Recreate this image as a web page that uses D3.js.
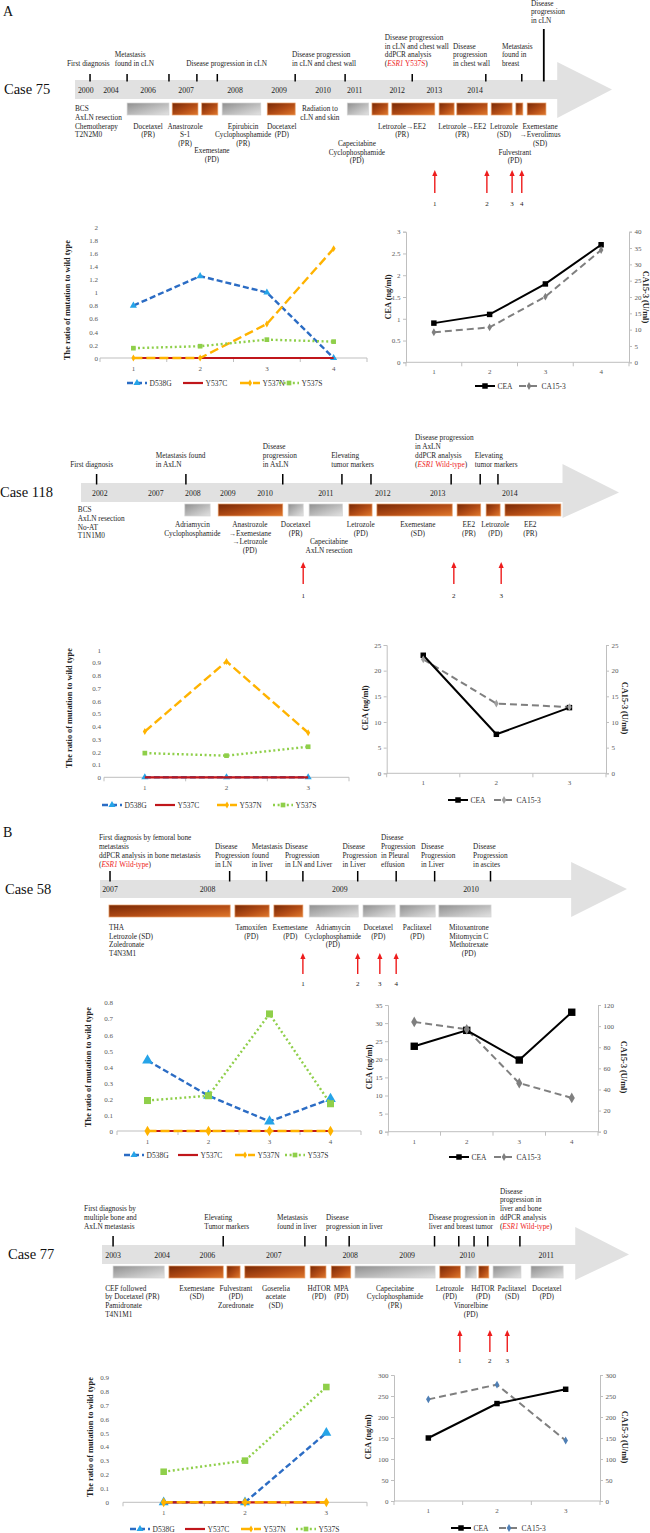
<!DOCTYPE html>
<html><head><meta charset="utf-8"><title>ESR1 mutation timelines</title>
<script src="https://cdn.jsdelivr.net/npm/d3@7/dist/d3.min.js"></script>
<style>html,body{margin:0;padding:0;background:#fff;}svg{display:block;}</style>
</head><body>
<script>
// ================= DATA =================
const mutationNames = ["D538G", "Y537C", "Y537N", "Y537S"];
const markerNames = ["CEA", "CA15-3"];

// ---- Case 75 (timeline positions in % of arrow length) ----
const c75Years = [{label:"2000",t:2.0},{label:"2004",t:6.7},{label:"2006",t:13.6},{label:"2007",t:20.7},{label:"2008",t:29.8},{label:"2009",t:38.0},{label:"2010",t:46.2},{label:"2011",t:52.1},{label:"2012",t:60.0},{label:"2013",t:66.9},{label:"2014",t:74.5}];
const c75Events = [
  {t:2.8, lx:-1.5, text:["First diagnosis"]},
  {t:9.7, lx:7.4, text:["Metastasis","found in cLN"]},
  {t:17.5, text:[]},
  {t:22.7, text:[]},
  {t:26.5, lx:20.7, text:["Disease progression in cLN"]},
  {t:41.0, lx:40.4, text:["Disease progression","in cLN and chest wall"]},
  {t:50.3, text:[]},
  {t:62.8, lx:57.7, text:["Disease progression","in cLN and chest wall","ddPCR analysis","(ESR1 Y537S)"]},
  {t:76.5, lx:70.4, text:["Disease","progression","in chest wall"]},
  {t:83.2, lx:79.5, text:["Metastasis","found in","breast"]},
  {t:87.3, lx:84.9, tall:true, text:["Disease","progression","in cLN"]}
];
const c75Bars = [
  {s:9.7,e:17.5,kind:"chemo"},{s:18.1,e:22.9,kind:"endo"},{s:23.6,e:26.6,kind:"endo"},{s:27.4,e:34.6,kind:"chemo"},
  {s:35.8,e:41.0,kind:"endo"},{s:50.7,e:54.7,kind:"chemo"},{s:55.3,e:58.3,kind:"endo"},{s:59.0,e:67.0,kind:"endo"},
  {s:67.8,e:70.6,kind:"endo"},{s:71.1,e:76.8,kind:"endo"},{s:77.5,e:81.4,kind:"endo"},{s:82.1,e:83.4,kind:"endo"},{s:84.2,e:87.7,kind:"endo"}
];
const c75Therapy = [
  {c:0, row:0, anchor:"start", text:["BCS","AxLN resection","Chemotherapy","T2N2M0"]},
  {c:13.6,row:2,text:["Docetaxel","(PR)"]},
  {c:20.5,row:2,text:["Anastrozole","S-1","(PR)"]},
  {c:25.5,row:4.8,text:["Exemestane","(PD)"]},
  {c:31.3,row:2,text:["Epirubicin","Cyclophosphamide","(PR)"]},
  {c:38.5,row:2,text:["Docetaxel","(PD)"]},
  {c:45.6,row:0,text:["Radiation to","cLN and skin"]},
  {c:52.5,row:4,text:["Capecitabine","Cyclophosphamide","(PD)"]},
  {c:60.9,row:2,text:["Letrozole→EE2","(PR)"]},
  {c:72.1,row:2,text:["Letrozole→EE2","(PR)"]},
  {c:79.9,row:2,text:["Letrozole","(SD)"]},
  {c:86.6,row:2,text:["Exemestane","→Everolimus","(SD)"]},
  {c:81.9,row:5,text:["Fulvestrant","(PD)"]}
];
const c75Sampling = [67.0, 76.7, 81.4, 83.2];
const c75Samples = ["1","2","3","4"];
const c75D538G = [0.8, 1.25, 1.0, 0];
const c75Y537C = [0, 0, 0, 0];
const c75Y537N = [0, 0, 0.52, 1.67];
const c75Y537S = [0.15, 0.18, 0.28, 0.25];
const c75MutTicks = [0,0.2,0.4,0.6,0.8,1,1.2,1.4,1.6,1.8,2];
const c75CEA = [0.9, 1.1, 1.8, 2.7];
const c75CA153 = [9.2, 10.7, 20.1, 34.4];
const c75CeaTicks = [0,0.5,1,1.5,2,2.5,3];
const c75CaTicks = [0,5,10,15,20,25,30,35,40];

// ---- Case 118 ----
const c118Years = [{label:"2002",t:3.5},{label:"2007",t:13.9},{label:"2008",t:20.8},{label:"2009",t:27.3},{label:"2010",t:34.2},{label:"2011",t:45.5},{label:"2012",t:56.1},{label:"2013",t:66.3},{label:"2014",t:79.7}];
const c118Events = [
  {t:2.9, lx:-2.0, text:["First diagnosis"]},
  {t:19.5, lx:13.9, text:["Metastasis found","in AxLN"]},
  {t:37.5, lx:33.8, text:["Disease","progression","in AxLN"]},
  {t:48.5, lx:46.5, text:["Elevating","tumor markers"]},
  {t:53.9, text:[]},
  {t:68.8, lx:62.1, text:["Disease progression","in AxLN","ddPCR analysis","(ESR1 Wild-type)"]},
  {t:74.2, text:[]},
  {t:77.5, lx:73.2, text:["Elevating","tumor markers"]}
];
const c118Bars = [
  {s:19.3,e:24.0,kind:"chemo"},{s:25.5,e:37.5,kind:"endo"},{s:38.5,e:41.3,kind:"chemo"},{s:42.4,e:48.6,kind:"chemo"},
  {s:49.8,e:54.1,kind:"endo"},{s:55.0,e:69.0,kind:"endo"},{s:69.9,e:74.3,kind:"endo"},{s:75.3,e:77.9,kind:"endo"},{s:78.8,e:89.2,kind:"endo"}
];
const c118Therapy = [
  {c:-0.6,row:0.3,anchor:"start",text:["BCS","AxLN resection","No-AT","T1N1M0"]},
  {c:20.7,row:2,text:["Adriamycin","Cyclophosphamide"]},
  {c:31.4,row:2,text:["Anastrozole","→Exemestane","→Letrozole","(PD)"]},
  {c:39.9,row:2,text:["Docetaxel","(PR)"]},
  {c:46.1,row:4,text:["Capecitabine","AxLN resection"]},
  {c:52.0,row:2,text:["Letrozole","(PD)"]},
  {c:62.6,row:2,text:["Exemestane","(SD)"]},
  {c:72.1,row:2,text:["EE2","(PR)"]},
  {c:77.0,row:2,text:["Letrozole","(PD)"]},
  {c:83.5,row:2,text:["EE2","(PR)"]}
];
const c118Sampling = [41.3, 69.3, 78.1];
const c118Samples = ["1","2","3"];
const c118D538G = [0, 0, 0];
const c118Y537C = [0, 0, 0];
const c118Y537N = [0.36, 0.91, 0.35];
const c118Y537S = [0.19, 0.17, 0.24];
const c118MutTicks = [0,0.1,0.2,0.3,0.4,0.5,0.6,0.7,0.8,0.9,1];
const c118CEA = [23, 7.6, 12.8];
const c118CA153 = [22.2, 13.6, 12.9];
const c118CeaTicks = [0,5,10,15,20,25];
const c118CaTicks = [0,5,10,15,20,25];

// ---- Case 58 ----
const c58Years = [{label:"2007",t:1.9},{label:"2008",t:20.4},{label:"2009",t:45.5},{label:"2010",t:70.4}];
const c58Events = [
  {t:1.9, lx:-0.2, text:["First diagnosis by femoral bone","metastasis","ddPCR analysis in bone metastasis","(ESR1 Wild-type)"]},
  {t:24.6, lx:21.8, text:["Disease","Progression","in LN"]},
  {t:31.6, lx:28.8, text:["Metastasis","found","in liver"]},
  {t:38.5, lx:35.1, text:["Disease","Progression","in LN and Liver"]},
  {t:48.9, lx:46.0, text:["Disease","Progression","in Liver"]},
  {t:56.2, lx:53.3, text:["Disease","Progression","in Pleural","effusion"]},
  {t:63.5, lx:60.9, text:["Disease","Progression","in Liver"]},
  {t:74.1, lx:70.8, text:["Disease","Progression","in ascites"]}
];
const c58Bars = [
  {s:1.7,e:24.7,kind:"endo"},{s:25.6,e:32.1,kind:"endo"},{s:33.0,e:38.5,kind:"endo"},
  {s:39.7,e:49.0,kind:"chemo"},{s:49.9,e:56.0,kind:"chemo"},{s:56.9,e:63.6,kind:"chemo"},{s:64.3,e:74.2,kind:"chemo"}
];
const c58Therapy = [
  {c:1.7,row:2,anchor:"start",text:["THA","Letrozole (SD)","Zoledronate","T4N3M1"]},
  {c:28.7,row:2,text:["Tamoxifen","(PD)"]},
  {c:36.1,row:2,text:["Exemestane","(PD)"]},
  {c:44.2,row:2,text:["Adriamycin","Cyclophosphamide","(PD)"]},
  {c:52.8,row:2,text:["Docetaxel","(PD)"]},
  {c:60.2,row:2,text:["Paclitaxel","(PD)"]},
  {c:70.0,row:2,text:["Mitoxantrone","Mitomycin C","Methotrexate","(PD)"]}
];
const c58Sampling = [38.5, 48.9, 53.1, 56.2];
const c58Samples = ["1","2","3","4"];
const c58D538G = [0.44, 0.22, 0.06, 0.2];
const c58Y537C = [0, 0, 0, 0];
const c58Y537N = [0, 0, 0, 0];
const c58Y537S = [0.19, 0.22, 0.73, 0.17];
const c58MutTicks = [0,0.1,0.2,0.3,0.4,0.5,0.6,0.7,0.8];
const c58CEA = [23.6, 28, 19.8, 33];
const c58CA153 = [104, 97, 46, 32];
const c58CeaTicks = [0,5,10,15,20,25,30,35];
const c58CaTicks = [0,20,40,60,80,100,120];

// ---- Case 77 ----
const c77Years = [{label:"2003",t:2.1},{label:"2004",t:11.4},{label:"2006",t:20.0},{label:"2007",t:32.6},{label:"2008",t:47.1},{label:"2009",t:57.9},{label:"2010",t:69.3},{label:"2011",t:84.3}];
const c77Events = [
  {t:2.1, lx:-3.4, text:["First diagnosis by","multiple bone and","AxLN metastasis"]},
  {t:23.0, lx:19.4, text:["Elevating","Tumor markers"]},
  {t:38.5, lx:33.2, text:["Metastasis","found in liver"]},
  {t:42.5, text:[]},
  {t:46.9, lx:42.5, text:["Disease","progression in liver"]},
  {t:63.1, lx:62.0, text:["Disease progression in","liver and breast tumor"]},
  {t:67.7, text:[]},
  {t:70.6, text:[]},
  {t:73.2, text:[]},
  {t:79.3, lx:75.5, text:["Disease","progression in","liver and bone","ddPCR analysis","(ESR1 Wild-type)"]}
];
const c77Bars = [
  {s:2.1,e:11.8,kind:"chemo"},{s:12.7,e:23.0,kind:"endo"},{s:23.7,e:26.2,kind:"endo"},{s:27.1,e:38.5,kind:"endo"},
  {s:39.5,e:42.5,kind:"endo"},{s:43.5,e:47.2,kind:"endo"},{s:48.0,e:63.2,kind:"chemo"},{s:64.1,e:68.0,kind:"endo"},
  {s:68.9,e:71.0,kind:"chemo"},{s:71.5,e:73.4,kind:"endo"},{s:74.2,e:79.5,kind:"chemo"},{s:81.4,e:87.5,kind:"chemo"}
];
const c77Therapy = [
  {c:0.6,row:2,anchor:"start",text:["CEF followed","by Docetaxel (PR)","Pamidronate","T4N1M1"]},
  {c:18.0,row:2,text:["Exemestane","(SD)"]},
  {c:25.4,row:2,text:["Fulvestrant","(PD)","Zoredronate"]},
  {c:33.0,row:2,text:["Goserelia","acetate","(SD)"]},
  {c:41.2,row:2,text:["HdTOR","(PD)"]},
  {c:45.4,row:2,text:["MPA","(PD)"]},
  {c:55.6,row:2,text:["Capecitabine","Cyclophosphamide","(PR)"]},
  {c:66.0,row:2,text:["Letrozole","(PD)"]},
  {c:70.0,row:4,text:["Vinorelbine","(PD)"]},
  {c:72.3,row:2,text:["HdTOR","(PD)"]},
  {c:77.8,row:2,text:["Paclitaxel","(SD)"]},
  {c:84.4,row:2,text:["Docetaxel","(PD)"]}
];
const c77Sampling = [67.9, 73.6, 76.9];
const c77Samples = ["1","2","3"];
const c77D538G = [0, 0, 0.5];
const c77Y537C = [0, 0, 0];
const c77Y537N = [0, 0, 0];
const c77Y537S = [0.22, 0.3, 0.83];
const c77MutTicks = [0,0.1,0.2,0.3,0.4,0.5,0.6,0.7,0.8,0.9];
const c77CEA = [150, 232, 266];
const c77CA153 = [242, 277, 144];
const c77CeaTicks = [0,50,100,150,200,250,300];
const c77CaTicks = [0,50,100,150,200,250,300];

// ================= DRAWING =================
const FONT = "'Liberation Serif','Times New Roman',serif";
const svg = d3.select("body").append("svg").attr("width",650).attr("height",1533)
  .attr("font-family",FONT);
const defs = svg.append("defs");
const og = defs.append("linearGradient").attr("id","gOrange").attr("x1",0).attr("y1",0).attr("x2",1).attr("y2",1);
og.append("stop").attr("offset",0).attr("stop-color","#772805");
og.append("stop").attr("offset",0.55).attr("stop-color","#b44d16");
og.append("stop").attr("offset",1).attr("stop-color","#e0782c");
const gg = defs.append("linearGradient").attr("id","gGray").attr("x1",0).attr("y1",0).attr("x2",1).attr("y2",1);
gg.append("stop").attr("offset",0).attr("stop-color","#8f8f8f");
gg.append("stop").attr("offset",0.6).attr("stop-color","#c2c2c2");
gg.append("stop").attr("offset",1).attr("stop-color","#e2e2e2");

const RED = "#ee1c1c";
function richLine(sel, line){
  const m = line.match(/^\((ESR1)(.*)\)$/);
  if (m){
    sel.append("tspan").text("(");
    sel.append("tspan").attr("fill",RED).attr("font-style","italic").text("ESR1");
    sel.append("tspan").attr("fill",RED).text(m[2]);
    sel.append("tspan").text(")");
  } else sel.text(line);
}
function multiText(g, x, yFirst, lines, lh, anchor, size, color){
  const t = g.append("text").attr("font-size",size).attr("text-anchor",anchor).attr("fill",color||"#1e1e1e");
  lines.forEach((ln,i)=>{ const ts=t.append("tspan").attr("x",x).attr("y",yFirst+i*lh); richLine(ts,ln); });
  return t;
}

// panel letters
svg.append("text").attr("x",3).attr("y",16).attr("font-size",14).attr("fill","#111").text("A");
svg.append("text").attr("x",3).attr("y",837).attr("font-size",14).attr("fill","#111").text("B");

function drawTimeline(L, name, years, events, bars, therapy, sampling){
  const x = d3.scaleLinear().domain([0,100]).range([L.x0, L.x1]);
  const g = svg.append("g");
  const mid = (L.bandTop+L.bandBot)/2;
  const LH = 8.7;
  g.append("text").attr("x",L.nameX).attr("y",mid+4.8).attr("font-size",14.5).attr("fill","#111").text(name);
  const hx = x(L.head);
  g.append("path").attr("fill","#e1e1e1")
    .attr("d",`M${x(0)},${L.bandTop}H${hx}V${L.headTop}L${x(100)},${mid}L${hx},${L.headBot}V${L.bandBot}H${x(0)}Z`);
  g.selectAll("text.yr").data(years).join("text").attr("class","yr")
    .attr("x",d=>x(d.t)).attr("y",mid+3).attr("text-anchor","middle").attr("font-size",7.8).attr("fill","#222").text(d=>d.label);
  g.selectAll("rect.bar").data(bars).join("rect").attr("class","bar")
    .attr("x",d=>x(d.s)).attr("width",d=>x(d.e)-x(d.s)).attr("y",L.barTop).attr("height",12)
    .attr("fill",d=>d.kind==="endo"?"url(#gOrange)":"url(#gGray)")
    .attr("stroke",d=>d.kind==="endo"?"#e9a06a":"#d4d4d4").attr("stroke-width",0.7);
  g.selectAll("line.tk").data(events).join("line").attr("class","tk")
    .attr("x1",d=>x(d.t)).attr("x2",d=>x(d.t))
    .attr("y1",d=>d.tall?L.tallTop:L.tickTop).attr("y2",L.bandTop+1.5)
    .attr("stroke","#000").attr("stroke-width",d=>d.tall?1.8:1.5);
  events.filter(d=>d.text.length).forEach(d=>{
    const base = d.tall ? L.tallBase : L.evBase;
    multiText(g, x(d.lx), base-(d.text.length-1)*LH, d.text, LH, "start", 7.3);
  });
  therapy.forEach(d=>{
    multiText(g, x(d.c), L.labBase+(d.row-2)*LH, d.text, LH, d.anchor||"middle", 7.3);
  });
  const ag = g.selectAll("g.arr").data(sampling).join("g").attr("class","arr")
    .attr("transform",d=>`translate(${x(d)},0)`);
  ag.append("line").attr("x1",0).attr("x2",0).attr("y1",L.arrBot).attr("y2",L.arrTop+5).attr("stroke",RED).attr("stroke-width",1.4);
  ag.append("path").attr("d",`M-2.6,${L.arrTop+6}L0,${L.arrTop}L2.6,${L.arrTop+6}Z`).attr("fill",RED);
  ag.append("text").attr("y",L.numY).attr("text-anchor","middle").attr("font-size",7).attr("fill","#222").text((d,i)=>i+1);
}

const mutStyles = [
  {color:"#2b6cc4", dash:"6,3", w:2.4, sym:d3.symbolTriangle, size:22, mfill:"#26a4e8"},
  {color:"#c0161b", dash:null, w:2.2, sym:null},
  {color:"#ffb300", dash:"9,4", w:2.4, sym:d3.symbolDiamond, size:14, mfill:"#ffb300"},
  {color:"#8fcf4a", dash:"2,2.6", w:2.4, sym:d3.symbolSquare, size:22, mfill:"#8fcf4a"}
];

function styleAxis(sel){
  sel.attr("font-family",FONT).attr("font-size",7);
  sel.selectAll("text").attr("fill","#595959");
}

function legendItem(g, x, y, st, label, lineLen){
  g.append("line").attr("x1",x).attr("x2",x+lineLen).attr("y1",y).attr("y2",y)
    .attr("stroke",st.color).attr("stroke-width",st.w).attr("stroke-dasharray",st.dash);
  if (st.sym) g.append("path").attr("d",d3.symbol(st.sym, st.size)()).attr("transform",`translate(${x+lineLen/2},${y})`).attr("fill",st.mfill);
  g.append("text").attr("x",x+lineLen+2.5).attr("y",y+2.6).attr("font-size",7.5).attr("fill","#333").text(label);
}

function drawMut(L, samples, seriesVals, ticks){
  const g = svg.append("g");
  const x = d3.scaleBand().domain(samples).range([L.x0,L.x1]);
  const y = d3.scaleLinear().domain([0,d3.max(ticks)]).range([L.yb,L.yt]);
  const ya = g.append("g").attr("transform",`translate(${L.labX},0)`)
    .call(d3.axisLeft(y).tickValues(ticks).tickSize(0).tickPadding(0).tickFormat(d3.format("~g")));
  ya.select(".domain").remove(); styleAxis(ya);
  g.append("line").attr("x1",L.x0).attr("x2",L.x1).attr("y1",y(0)).attr("y2",y(0)).attr("stroke","#bfbfbf").attr("stroke-width",1);
  g.selectAll("line.ct").data(d3.range(samples.length+1)).join("line").attr("class","ct")
    .attr("x1",i=>L.x0+i*x.step()).attr("x2",i=>L.x0+i*x.step()).attr("y1",y(0)).attr("y2",y(0)+4).attr("stroke","#bfbfbf");
  const xa = g.append("g").attr("transform",`translate(0,${y(0)+8})`)
    .call(d3.axisBottom(x).tickSize(0).tickPadding(0));
  xa.select(".domain").remove(); styleAxis(xa);
  const cx = s=>x(s)+x.bandwidth()/2;
  const ms = L.ms||1;
  seriesVals.forEach((vals,k)=>{
    const st = mutStyles[k];
    const pts = samples.map((s,i)=>({s, v:vals[i]}));
    g.append("path").datum(pts).attr("fill","none").attr("stroke",st.color).attr("stroke-width",st.w)
      .attr("stroke-dasharray",st.dash).attr("d",d3.line().x(d=>cx(d.s)).y(d=>y(d.v)));
    if (st.sym) g.selectAll(null).data(pts).join("path").attr("d",d3.symbol(st.sym, st.size*ms*ms)())
      .attr("transform",d=>`translate(${cx(d.s)},${y(d.v)})`).attr("fill",st.mfill);
  });
  g.append("text").attr("transform",`translate(${L.titleX},${L.titleY}) rotate(-90)`).attr("text-anchor","middle")
    .attr("font-size",8.3).attr("font-weight","bold").attr("fill","#222").text("The ratio of mutation to wild type");
  mutationNames.forEach((n,k)=> legendItem(g, L.legX[k], L.legY, mutStyles[k], n, 20));
}

function drawMarker(L, samples, cea, ca, ceaTicks, caTicks){
  const g = svg.append("g");
  const x = d3.scaleBand().domain(samples).range([L.x0,L.x1]);
  const yL = d3.scaleLinear().domain([0,d3.max(ceaTicks)]).range([L.yb,L.yt]);
  const yR = d3.scaleLinear().domain([0,d3.max(caTicks)]).range([L.yb,L.yt]);
  const al = g.append("g").attr("transform",`translate(${L.x0},0)`)
    .call(d3.axisLeft(yL).tickValues(ceaTicks).tickSize(3).tickPadding(2.5).tickFormat(d3.format("~g")));
  styleAxis(al); al.selectAll("path,line").attr("stroke","#bfbfbf");
  const ar = g.append("g").attr("transform",`translate(${L.x1},0)`)
    .call(d3.axisRight(yR).tickValues(caTicks).tickSize(3).tickPadding(2.5).tickFormat(d3.format("~g")));
  styleAxis(ar); ar.selectAll("path,line").attr("stroke","#bfbfbf");
  g.append("line").attr("x1",L.x0).attr("x2",L.x1).attr("y1",L.yb).attr("y2",L.yb).attr("stroke","#bfbfbf");
  g.selectAll("line.ct").data(d3.range(samples.length+1)).join("line").attr("class","ct")
    .attr("x1",i=>L.x0+i*x.step()).attr("x2",i=>L.x0+i*x.step()).attr("y1",L.yb).attr("y2",L.yb+4).attr("stroke","#bfbfbf");
  const xa = g.append("g").attr("transform",`translate(0,${L.yb+7})`).call(d3.axisBottom(x).tickSize(0).tickPadding(0));
  xa.select(".domain").remove(); styleAxis(xa);
  const cx = s=>x(s)+x.bandwidth()/2;
  const ms = L.ms||1;
  const caSt = {color:"#7f7f7f", dash:"7,4", w:2, sym:d3.symbolDiamond, size:18, mfill:L.caColor||"#7f7f7f"};
  const ceaSt = {color:"#000", dash:null, w:2, sym:d3.symbolSquare, size:30, mfill:"#000"};
  const caPts = samples.map((s,i)=>({s,v:ca[i]}));
  const ceaPts = samples.map((s,i)=>({s,v:cea[i]}));
  g.append("path").datum(caPts).attr("fill","none").attr("stroke",caSt.color).attr("stroke-width",caSt.w)
    .attr("stroke-dasharray",caSt.dash).attr("d",d3.line().x(d=>cx(d.s)).y(d=>yR(d.v)));
  g.append("path").datum(ceaPts).attr("fill","none").attr("stroke","#000").attr("stroke-width",2)
    .attr("d",d3.line().x(d=>cx(d.s)).y(d=>yL(d.v)));
  g.selectAll(null).data(ceaPts).join("path").attr("d",d3.symbol(d3.symbolSquare, ceaSt.size*ms*ms)())
    .attr("transform",d=>`translate(${cx(d.s)},${yL(d.v)})`).attr("fill","#000");
  g.selectAll(null).data(caPts).join("path").attr("d",d3.symbol(d3.symbolDiamond, caSt.size*ms*ms)())
    .attr("transform",d=>`translate(${cx(d.s)},${yR(d.v)})`).attr("fill",caSt.mfill);
  g.append("text").attr("transform",`translate(${L.titleL},${L.titleY}) rotate(-90)`).attr("text-anchor","middle")
    .attr("font-size",8.3).attr("font-weight","bold").attr("fill","#222").text("CEA (ng/ml)");
  g.append("text").attr("transform",`translate(${L.titleR},${L.titleY}) rotate(90)`).attr("text-anchor","middle")
    .attr("font-size",8.3).attr("font-weight","bold").attr("fill","#222").text("CA15-3 (U/ml)");
  legendItem(g, L.legX[0], L.legY, ceaSt, markerNames[0], 20);
  legendItem(g, L.legX[1], L.legY, caSt, markerNames[1], 20);
}

// ---------- layout ----------
drawTimeline({nameX:4,x0:75,x1:612,head:89.8,bandTop:80,bandBot:99,headTop:62,headBot:118,tickTop:74,tallTop:29,evBase:66,tallBase:23,barTop:103,labBase:128.5,arrTop:170,arrBot:193,numY:206},
  "Case 75", c75Years, c75Events, c75Bars, c75Therapy, c75Sampling);
drawMut({x0:100,x1:367,yb:358,yt:227,labX:98,titleX:70,titleY:300,legY:383,legX:[127,183,240,279]},
  c75Samples, [c75D538G,c75Y537C,c75Y537N,c75Y537S], c75MutTicks);
drawMarker({x0:406,x1:629,yb:362.3,yt:231.7,titleL:390.5,titleR:643,titleY:297,legY:386,legX:[475,519]},
  c75Samples, c75CEA, c75CA153, c75CeaTicks, c75CaTicks);

drawTimeline({nameX:0,x0:81,x1:619,head:89.5,bandTop:483,bandBot:502,headTop:464,headBot:518,tickTop:474,evBase:466.5,barTop:504,labBase:527,arrTop:562,arrBot:584,numY:598},
  "Case 118", c118Years, c118Events, c118Bars, c118Therapy, c118Sampling);
drawMut({x0:104,x1:349,yb:777.3,yt:650,labX:101,titleX:72,titleY:708,legY:805,legX:[102,155,217,273]},
  c118Samples, [c118D538G,c118Y537C,c118Y537N,c118Y537S], c118MutTicks);
drawMarker({x0:386.7,x1:606,yb:773.3,yt:645,titleL:367.6,titleR:622,titleY:708,legY:800,legX:[448,494],caColor:"#a0a0a0"},
  c118Samples, c118CEA, c118CA153, c118CeaTicks, c118CaTicks);

drawTimeline({nameX:5,x0:100,x1:627,head:89.4,bandTop:880,bandBot:898,headTop:862,headBot:917,tickTop:871,evBase:866.5,barTop:905,labBase:930,arrTop:953,arrBot:974,numY:986},
  "Case 58", c58Years, c58Events, c58Bars, c58Therapy, c58Sampling);
drawMut({x0:117,x1:361,yb:1131,yt:1002.7,labX:113,titleX:90.5,titleY:1067,legY:1155,legX:[124,178,235,285],ms:1.5},
  c58Samples, [c58D538G,c58Y537C,c58Y537N,c58Y537S], c58MutTicks);
drawMarker({x0:388,x1:598,yb:1131.7,yt:1005,titleL:372,titleR:621,titleY:1067,legY:1157,legX:[449,494],ms:1.35},
  c58Samples, c58CEA, c58CA153, c58CeaTicks, c58CaTicks);

drawTimeline({nameX:8,x0:102,x1:629,head:89.8,bandTop:1245,bandBot:1264,headTop:1227,headBot:1280,tickTop:1236,evBase:1228.5,barTop:1266,labBase:1290.5,arrTop:1330,arrBot:1352,numY:1363},
  "Case 77", c77Years, c77Events, c77Bars, c77Therapy, c77Sampling);
drawMut({x0:123,x1:367,yb:1502.3,yt:1377.3,labX:109,titleX:92.6,titleY:1437,legY:1529,legX:[130,185,241,296],ms:1.4},
  c77Samples, [c77D538G,c77Y537C,c77Y537N,c77Y537S], c77MutTicks);
drawMarker({x0:394,x1:600,yb:1501,yt:1375,titleL:371,titleR:622,titleY:1437,legY:1528,legX:[451,499],caColor:"#4f7fb5"},
  c77Samples, c77CEA, c77CA153, c77CeaTicks, c77CaTicks);
</script>
</body></html>
